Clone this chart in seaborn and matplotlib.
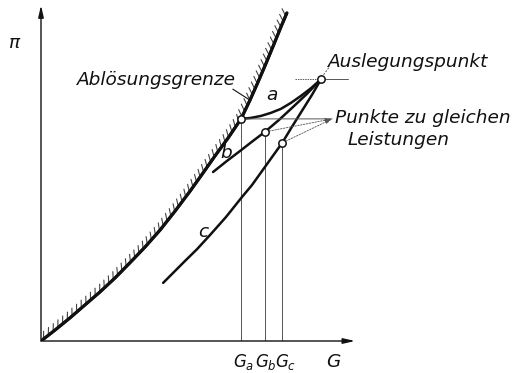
import matplotlib
matplotlib.use("Agg")
import matplotlib.pyplot as plt
import matplotlib.patheffects as pe
import seaborn as sns

# Surge limit (Ablösungsgrenze): mass flow G vs pressure ratio pi
surge_G = [0.0, 4.5, 9.2, 14.0, 18.8, 23.6, 28.3, 33.1, 37.9, 42.7, 47.5,
           51.6, 55.4, 59.6, 63.7, 66.6, 69.1, 71.7, 74.2, 76.4, 78.3]
surge_Pi = [0.0, 3.3, 6.9, 10.8, 14.7, 18.9, 23.4, 28.1, 33.2, 38.9, 44.9,
            50.3, 55.4, 60.8, 66.5, 72.2, 77.5, 83.2, 88.9, 94.0, 98.2]

# Operating lines a, b, c ending in the design point
line_a_G = [63.7, 66.9, 70.1, 73.2, 76.4, 79.6, 82.8, 86.0, 89.2]
line_a_Pi = [66.5, 66.8, 67.4, 68.3, 69.5, 71.3, 73.4, 75.7, 78.4]
line_b_G = [54.8, 59.2, 63.4, 67.5, 71.3, 75.8, 80.3, 84.7, 89.2]
line_b_Pi = [50.6, 53.9, 56.9, 59.9, 62.6, 66.2, 70.1, 74.0, 78.4]
line_c_G = [38.9, 42.4, 45.9, 49.7, 53.8, 58.9, 64.0, 67.2, 70.4, 73.6,
            76.8, 79.9, 83.1, 86.3, 89.2]
line_c_Pi = [17.4, 20.7, 24.0, 27.5, 31.7, 37.1, 43.1, 46.7, 50.9, 55.1,
             59.3, 64.1, 68.9, 73.7, 78.4]

# Design point and points of equal power on a, b, c
design_G, design_Pi = 89.2, 78.4
equal_G = [63.7, 71.3, 76.8]
equal_Pi = [66.5, 62.6, 59.3]
equal_labels = ["$G_a$", "$G_b$", "$G_c$"]
curve_labels = ["a", "b", "c"]

sns.set_style("white")
plt.rcParams["font.family"] = ["DejaVu Sans"]
plt.rcParams["mathtext.fontset"] = "dejavusans"

fig = plt.figure(figsize=(5.17, 3.73), dpi=100)
ax = fig.add_axes([41 / 517, 32 / 373, 314 / 517, 334 / 373])
ax.set_xlim(0, 100)
ax.set_ylim(0, 100)
ax.set_xticks([])
ax.set_yticks([])
for s in ax.spines.values():
    s.set_visible(False)

ink = "#111111"
thin = "#555555"
fs = 13.3

# axes with arrow heads
arrow = dict(arrowstyle="-|>,head_length=0.7,head_width=0.16", lw=1.0, color=ink,
             shrinkA=0, shrinkB=0)
ax.annotate("", xy=(1.0, 0), xytext=(0, 0), xycoords="axes fraction", arrowprops=arrow)
ax.annotate("", xy=(0, 1.005), xytext=(0, 0), xycoords="axes fraction", arrowprops=arrow)

# thin construction lines: verticals to the G axis, horizontal through design point
for g, p in zip(equal_G, equal_Pi):
    ax.plot([g, g], [0, p], color=thin, lw=0.7, zorder=1)
ax.plot([80.9, design_G], [design_Pi, design_Pi], color=thin, lw=0.7,
        ls=(0, (1.5, 1)), zorder=1)
ax.plot([design_G, 97.8], [design_Pi, design_Pi], color=thin, lw=0.7, zorder=1)

# surge limit with hatching on the unstable side
sns.lineplot(x=surge_G, y=surge_Pi, sort=False, estimator=None, ax=ax,
             color=ink, lw=2.2, zorder=3,
             path_effects=[pe.withTickedStroke(angle=50, spacing=4.4, length=1.3,
                                               linewidth=0.8, foreground="#444444"),
                           pe.Normal()])

# operating lines
for gx, py in [(line_a_G, line_a_Pi), (line_b_G, line_b_Pi), (line_c_G, line_c_Pi)]:
    sns.lineplot(x=gx, y=py, sort=False, estimator=None, ax=ax,
                 color=ink, lw=1.8, zorder=3)

# marked points
sns.scatterplot(x=equal_G + [design_G], y=equal_Pi + [design_Pi], ax=ax,
                s=28, color="white", edgecolor=ink, linewidth=1.1, zorder=5)

# leaders from the equal-power points to their label
tip = (92.7, 66.5)
ax.annotate("", xy=tip, xytext=(equal_G[0], equal_Pi[0]),
            arrowprops=dict(arrowstyle="-", lw=0.7, color=thin, shrinkA=3, shrinkB=0))
for g, p in zip(equal_G[1:], equal_Pi[1:]):
    ax.annotate("", xy=tip, xytext=(g, p),
                arrowprops=dict(arrowstyle="-|>,head_length=0.4,head_width=0.12",
                                lw=0.6, ls=(0, (2, 1.5)), color=thin,
                                shrinkA=3, shrinkB=0))

# texts
kw = dict(fontsize=fs, fontstyle="italic", color=ink)
ax.text(-8.3, 89.2, "π", ha="center", va="center", clip_on=False, **kw)
ax.text(11.5, 78.1, "Ablösungsgrenze", ha="left", va="center", **kw)
ax.plot([61.1, 66.4], [75.4, 72.2], color=ink, lw=0.8)
ax.text(91.4, 83.5, "Auslegungspunkt", ha="left", va="center", clip_on=False, **kw)
ax.plot([design_G + 0.8, 92.0], [design_Pi + 1.3, 82.3], color=thin, lw=0.7,
        ls=(0, (2, 1.5)))
ax.text(93.6, 66.8, "Punkte zu gleichen", ha="left", va="center", clip_on=False, **kw)
ax.text(97.5, 60.2, "Leistungen", ha="left", va="center", clip_on=False, **kw)

for lbl, (x, y) in zip(curve_labels, [(73.6, 73.7), (58.9, 56.3), (51.6, 32.6)]):
    ax.text(x, y, lbl, ha="center", va="center", **kw)

gkw = dict(kw, fontsize=12)
for lbl, g in zip(equal_labels, [64.6, 71.6, 78.0]):
    ax.text(g, -6.3, lbl, ha="center", va="center", clip_on=False, **gkw)
ax.text(93.0, -6.3, "G", ha="center", va="center", clip_on=False, **kw)

fig.savefig("out.png", dpi=100)
